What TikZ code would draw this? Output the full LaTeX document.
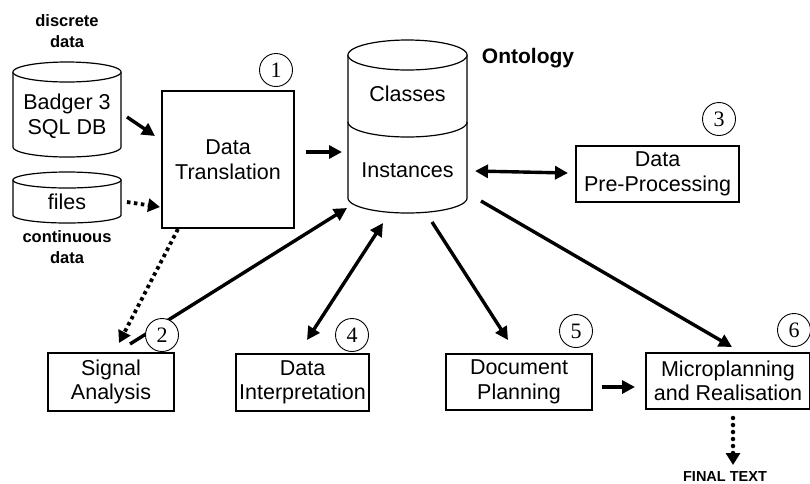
\documentclass[tikz,border=0pt]{standalone}
\usepackage{fontspec}
\setmainfont{Liberation Sans}
\newfontfamily\numfont{Liberation Serif}
\usetikzlibrary{arrows.meta}
\newcommand\mycyl[5]{% cx, topcy, botcy, rx, ry
  \fill[white] plot[domain=180:0,samples=60] ({#1+#4*cos(\x)},{#3+#5*sin(\x)}) -- (#1+#4,#2) -- (#1-#4,#2) -- cycle;
  \draw[line width=1.2pt] (#1-#4,#2) -- (#1-#4,#3) plot[domain=180:0,samples=60] ({#1+#4*cos(\x)},{#3+#5*sin(\x)}) -- (#1+#4,#2);
  \draw[line width=1.2pt,fill=white] plot[domain=0:360,samples=90] ({#1+#4*cos(\x)},{#2+#5*sin(\x)}) -- cycle;
}
\begin{document}
\begin{tikzpicture}[x=1pt,y=-1pt,
  lbl/.style={font=\fontsize{21.5}{24.5}\selectfont, align=center, inner sep=0pt},
  boxn/.style={draw, line width=1.3pt, fill=white, inner sep=0pt, font=\fontsize{21.5}{24.5}\selectfont, align=center},
  numc/.style={draw, circle, line width=0.9pt, fill=white, minimum size=33pt, inner sep=0pt, font=\numfont\fontsize{22}{22}\selectfont},
  blbl/.style={font=\bfseries\fontsize{16.5}{21}\selectfont, align=center, inner sep=0pt},
  arr/.style={line width=3.4pt, -{Triangle[length=13pt,width=13pt]}},
  darr/.style={line width=3.4pt, {Triangle[length=13pt,width=13pt]}-{Triangle[length=13pt,width=13pt]}},
  dotarr/.style={line width=3.8pt, dash pattern=on 3.5pt off 3.5pt, -{Triangle[length=12pt,width=13pt]}},
  rdotarr/.style={line width=4.5pt, line cap=round, dash pattern=on 0pt off 7pt, -{Triangle[length=12pt,width=14pt]}}
]
\useasboundingbox (0,0) rectangle (810,483);

% cylinders
\mycyl{67}{72}{147}{54}{10}
\mycyl{67}{180}{215}{54}{8}
\mycyl{407.5}{55}{198}{59.5}{15}
\draw[line width=1.2pt] plot[domain=180:0,samples=60] ({407.5+59.5*cos(\x)},{122+15*sin(\x)});

\node[lbl] (badger) at (67,116) {Badger 3\\SQL DB};
\node[lbl] (files) at (67,202) {files};
\node[lbl] (classes) at (407.5,94) {Classes};
\node[lbl] (inst) at (407.5,170) {Instances};
\node[blbl] (disc) at (67,31) {discrete\\data};
\node[blbl] (cont) at (67,247) {continuous\\data};
\node[font=\bfseries\fontsize{21}{24}\selectfont, inner sep=0pt] (onto) at (528,58) {Ontology};

% boxes
\node[boxn, minimum width=132pt, minimum height=137pt] (dt) at (228,159.5) {Data\\Translation};
\node[boxn, minimum width=163pt, minimum height=56pt] (dpp) at (657.5,174) {Data\\Pre-Processing};
\node[boxn, minimum width=126pt, minimum height=58pt] (sa) at (111,382) {Signal\\Analysis};
\node[boxn, minimum width=133pt, minimum height=57pt] (di) at (302.5,382.5) {Data\\Interpretation};
\node[boxn, minimum width=146pt, minimum height=56pt] (dp) at (519,382) {Document\\Planning};
\node[boxn, minimum width=164pt, minimum height=56pt] (mr) at (728,381) {Microplanning\\and Realisation};

% connector end points
\coordinate (b1) at (127,117); \coordinate (b2) at (155,136);
\coordinate (f1) at (127,202); \coordinate (f2) at (160,207);
\coordinate (t1) at (306,152); \coordinate (t2) at (342,152);
\coordinate (o1) at (475,171); \coordinate (o2) at (568,173);
\coordinate (s1) at (178,229); \coordinate (s2) at (119,343);
\coordinate (a1) at (130,344); \coordinate (a2) at (347,208);
\coordinate (i1) at (307,340); \coordinate (i2) at (383,223);
\coordinate (p1) at (432,222); \coordinate (p2) at (508,340);
\coordinate (m1) at (481,201); \coordinate (m2) at (732,347);
\coordinate (d1) at (602,387); \coordinate (d2) at (635,387);
\coordinate (x1) at (733,418); \coordinate (x2) at (733,465);

\draw[arr] (b1) -- (b2);
\draw[dotarr] (f1) -- (f2);
\draw[arr] (t1) -- (t2);
\draw[darr] (o1) -- (o2);
\draw[dotarr] (s1) -- (s2);
\draw[arr] (a1) -- (a2);
\draw[darr] (i1) -- (i2);
\draw[arr] (p1) -- (p2);
\draw[arr] (m1) -- (m2);
\draw[arr] (d1) -- (d2);
\draw[rdotarr] (x1) -- (x2);

\node[font=\bfseries\fontsize{14.5}{16}\selectfont, inner sep=0pt] (final) at (725,476) {FINAL TEXT};

% numbered circles
\node[numc] (n1) at (276,70) {1};
\node[numc] (n2) at (162,335) {2};
\node[numc] (n3) at (719,119) {3};
\node[numc] (n4) at (352,335) {4};
\node[numc] (n5) at (576,331) {5};
\node[numc] (n6) at (794,330) {6};
\end{tikzpicture}
\end{document}
